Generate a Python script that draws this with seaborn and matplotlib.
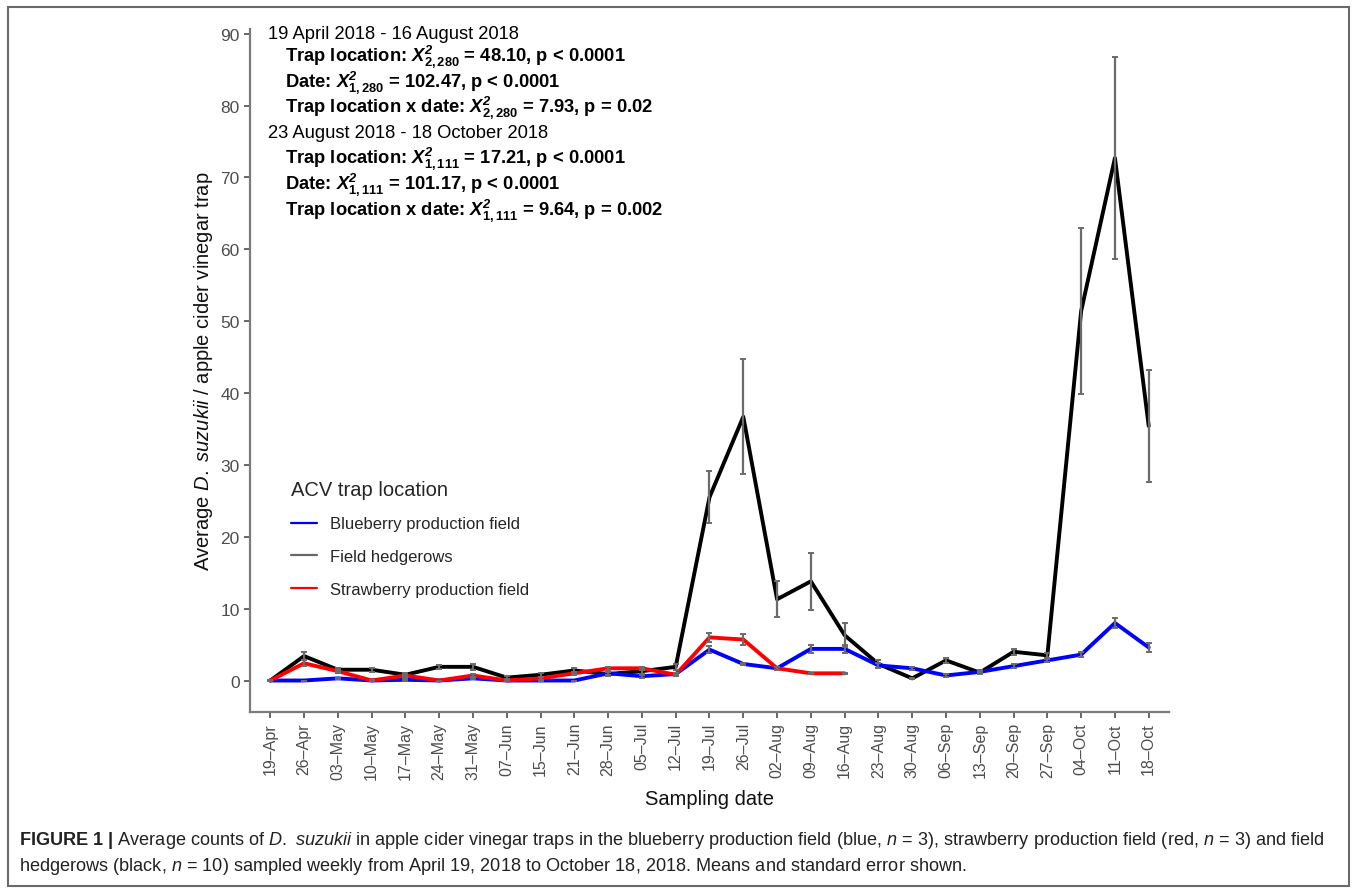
import numpy as np
import pandas as pd
import matplotlib
matplotlib.use("Agg")
import matplotlib.pyplot as plt
from matplotlib.lines import Line2D
from matplotlib.patches import Rectangle
import seaborn as sns

# Sampling dates (weekly)
dates = ["19–Apr", "26–Apr", "03–May", "10–May", "17–May", "24–May", "31–May",
         "07–Jun", "15–Jun", "21–Jun", "28–Jun", "05–Jul", "12–Jul", "19–Jul",
         "26–Jul", "02–Aug", "09–Aug", "16–Aug", "23–Aug", "30–Aug", "06–Sep",
         "13–Sep", "20–Sep", "27–Sep", "04–Oct", "11–Oct", "18–Oct"]

# Mean counts per trap and standard errors
hedgerow_mean = [0.0, 3.4, 1.5, 1.5, 0.8, 1.9, 1.9, 0.4, 0.8, 1.4, 0.9, 1.3, 1.9,
                 25.5, 36.7, 11.3, 13.8, 6.3, 2.3, 0.3, 2.8, 1.1, 4.0, 3.5,
                 51.4, 72.7, 35.4]
hedgerow_se = [0.1, 0.5, 0.3, 0.3, 0.2, 0.3, 0.4, 0.2, 0.3, 0.3, 0.3, 0.4, 0.4,
               3.6, 8.0, 2.5, 4.0, 1.7, 0.6, 0.1, 0.3, 0.2, 0.4, 0.3,
               11.5, 14.0, 7.8]

blueberry_mean = [0.0, 0.0, 0.3, 0.0, 0.1, 0.0, 0.3, 0.0, 0.0, 0.0, 1.0, 0.6, 0.9,
                  4.3, 2.3, 1.7, 4.4, 4.4, 2.1, 1.7, 0.7, 1.2, 2.0, 2.8,
                  3.6, 8.0, 4.6]
blueberry_se = [0.0, 0.0, 0.1, 0.0, 0.1, 0.0, 0.1, 0.0, 0.0, 0.0, 0.2, 0.2, 0.2,
                0.5, 0.2, 0.2, 0.6, 0.6, 0.3, 0.2, 0.2, 0.2, 0.3, 0.2,
                0.3, 0.7, 0.6]

strawberry_mean = [0.0, 2.4, 1.3, 0.0, 0.7, 0.0, 0.7, 0.0, 0.3, 1.0, 1.7, 1.7, 0.8,
                   6.0, 5.7, 1.7, 1.0, 1.0]
strawberry_se = [0.1, 0.4, 0.2, 0.1, 0.2, 0.0, 0.2, 0.0, 0.2, 0.2, 0.2, 0.2, 0.2,
                 0.6, 0.8, 0.2, 0.1, 0.1]

locations = ["Field hedgerows", "Blueberry production field", "Strawberry production field"]
line_colors = {"Field hedgerows": "#000000",
               "Blueberry production field": "#0000FF",
               "Strawberry production field": "#FF0000"}
legend_order = ["Blueberry production field", "Field hedgerows", "Strawberry production field"]
legend_colors = {"Blueberry production field": "#0000FF",
                 "Field hedgerows": "#666666",
                 "Strawberry production field": "#FF0000"}

frames = []
for loc, m, s in zip(locations,
                     [hedgerow_mean, blueberry_mean, strawberry_mean],
                     [hedgerow_se, blueberry_se, strawberry_se]):
    frames.append(pd.DataFrame({"pos": np.arange(len(m)), "date": dates[:len(m)],
                                "mean": m, "se": s, "location": loc}))
df = pd.concat(frames, ignore_index=True)

sns.set_theme(style="white")
plt.rcParams["font.family"] = ["Liberation Sans", "DejaVu Sans"]
plt.rcParams["mathtext.fontset"] = "custom"
plt.rcParams["mathtext.rm"] = "Liberation Sans"
plt.rcParams["mathtext.it"] = "Liberation Sans:italic"
plt.rcParams["mathtext.bf"] = "Liberation Sans:bold"
try:
    plt.rcParams["mathtext.bfit"] = "Liberation Sans:bold:italic"
except KeyError:
    pass

fig = plt.figure(figsize=(13.57, 8.95), dpi=100)
ax = fig.add_axes([250 / 1357, 1 - 712.7 / 895, (1169 - 250) / 1357, (712.7 - 29.6) / 895])

sns.lineplot(data=df, x="pos", y="mean", hue="location", hue_order=locations,
             palette=line_colors, linewidth=2.8, legend=False, ax=ax, sort=True)

for loc in locations:
    sub = df[df["location"] == loc]
    ax.errorbar(sub["pos"], sub["mean"], yerr=sub["se"], fmt="none",
                ecolor="#6b6b6b", elinewidth=1.6, capsize=2.2, capthick=1.4, zorder=5)

ax.set_xlim(-0.6, len(dates) - 0.4)
ax.set_ylim(-4.34, 90.7)
ax.set_xticks(np.arange(len(dates)))
ax.set_xticklabels(dates, rotation=90, fontsize=11.5, color="#4D4D4D")
ax.set_yticks(np.arange(0, 91, 10))
ax.tick_params(axis="y", labelsize=12.5, labelcolor="#4D4D4D")
ax.tick_params(axis="both", which="major", length=4.5, width=1.2, color="#4D4D4D",
               bottom=True, left=True, pad=3)
for side in ["top", "right"]:
    ax.spines[side].set_visible(False)
for side in ["left", "bottom"]:
    ax.spines[side].set_color("#7a7a7a")
    ax.spines[side].set_linewidth(1.6)

ax.set_xlabel("Sampling date", fontsize=14.5, color="#111111", labelpad=7)
ax.set_ylabel(r"Average $\mathit{D.\ suzukii}$ / apple cider vinegar trap",
              fontsize=14.5, color="#111111", labelpad=4)

# Statistics block
def fx(px):
    return px / 1357

def fy(py):
    return 1 - py / 895

stat_lines = [
    (268, 34.5, "19 April 2018 - 16 August 2018", "normal"),
    (285, 56.5, r"Trap location: $\mathbfit{X}^{\mathbfit{2}}_{\mathbf{2,280}}$ = 48.10, p < 0.0001", "bold"),
    (285, 82.5, r"Date: $\mathbfit{X}^{\mathbfit{2}}_{\mathbf{1,280}}$ = 102.47, p < 0.0001", "bold"),
    (285, 107.5, r"Trap location x date: $\mathbfit{X}^{\mathbfit{2}}_{\mathbf{2,280}}$ = 7.93, p = 0.02", "bold"),
    (268, 133, "23 August 2018 - 18 October 2018", "normal"),
    (285, 158.5, r"Trap location: $\mathbfit{X}^{\mathbfit{2}}_{\mathbf{1,111}}$ = 17.21, p < 0.0001", "bold"),
    (285, 184.5, r"Date: $\mathbfit{X}^{\mathbfit{2}}_{\mathbf{1,111}}$ = 101.17, p < 0.0001", "bold"),
    (285, 211, r"Trap location x date: $\mathbfit{X}^{\mathbfit{2}}_{\mathbf{1,111}}$ = 9.64, p = 0.002", "bold"),
]
for x, y, txt, w in stat_lines:
    fig.text(fx(x), fy(y), txt, fontsize=13.2, fontweight=w, color="#000000",
             ha="left", va="center")

# Legend
handles = [Line2D([0], [0], color=legend_colors[k], lw=1.6) for k in legend_order]
leg = fig.legend(handles, legend_order, title="ACV trap location", loc="upper left",
                 bbox_to_anchor=(fx(276), fy(466)), frameon=False, fontsize=12,
                 title_fontsize=14.5, handlelength=1.55, handletextpad=0.8,
                 labelspacing=1.05)
leg._legend_box.align = "left"

# Caption
fig.text(fx(19), fy(841),
         r"$\mathbf{FIGURE\ 1\ |}$ Average counts of $\mathit{D.\ suzukii}$ in apple cider vinegar traps "
         r"in the blueberry production field (blue, $\mathit{n}$ = 3), strawberry production field "
         r"(red, $\mathit{n}$ = 3) and field",
         fontsize=13.05, color="#222222", ha="left", va="center")
fig.text(fx(19), fy(867),
         r"hedgerows (black, $\mathit{n}$ = 10) sampled weekly from April 19, 2018 to October 18, 2018. "
         r"Means and standard error shown.",
         fontsize=13.05, color="#222222", ha="left", va="center")

# Figure frame
fig.patches.append(Rectangle((fx(8), fy(887)), fx(1349 - 8), (887 - 8) / 895,
                             transform=fig.transFigure, fill=False,
                             edgecolor="#6a6a6a", linewidth=1.5))

fig.savefig("out.png", dpi=100)
